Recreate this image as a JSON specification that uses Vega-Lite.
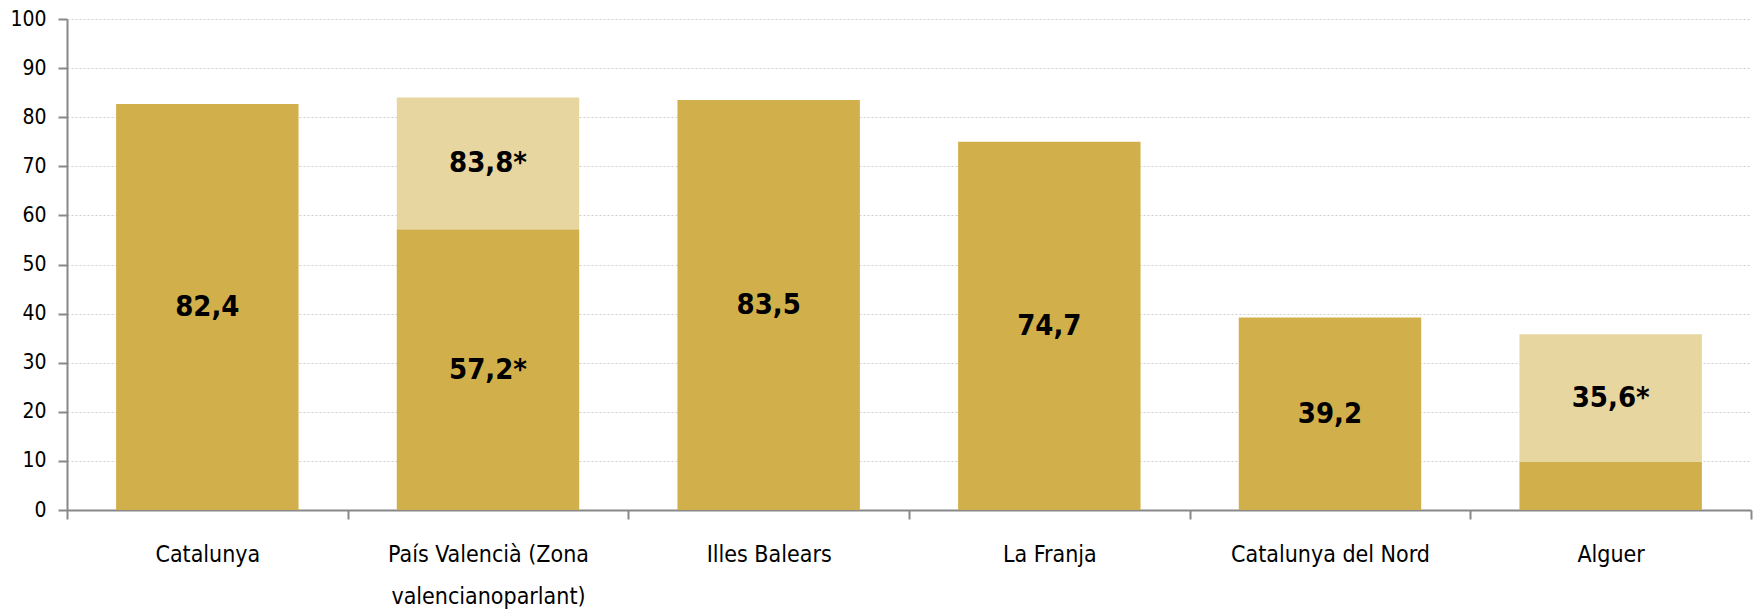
{
  "$schema": "https://vega.github.io/schema/vega-lite/v6.json",
  "width": 1684,
  "height": 491,
  "autosize": {"type": "none"},
  "padding": {"left": 67, "top": 19, "right": 7, "bottom": 100},
  "background": "white",
  "config": {
    "view": {"stroke": null},
    "font": "DejaVu Sans Condensed, DejaVu Sans"
  },
  "data": {
    "values": [
      {"region": "Catalunya", "part": "base", "start": 0, "end": 82.7, "label": "82,4"},
      {"region": "País Valencià (Zona valencianoparlant)", "part": "base", "start": 0, "end": 57.2, "label": "57,2*"},
      {"region": "País Valencià (Zona valencianoparlant)", "part": "extra", "start": 57.2, "end": 84.0, "label": "83,8*"},
      {"region": "Illes Balears", "part": "base", "start": 0, "end": 83.5, "label": "83,5"},
      {"region": "La Franja", "part": "base", "start": 0, "end": 75.0, "label": "74,7"},
      {"region": "Catalunya del Nord", "part": "base", "start": 0, "end": 39.2, "label": "39,2"},
      {"region": "Alguer", "part": "base", "start": 0, "end": 9.8, "label": ""},
      {"region": "Alguer", "part": "extra", "start": 9.8, "end": 35.8, "label": "35,6*"}
    ]
  },
  "encoding": {
    "x": {
      "field": "region",
      "type": "nominal",
      "sort": null,
      "scale": {"paddingInner": 0, "paddingOuter": 0},
      "axis": {
        "title": null,
        "labelAngle": 0,
        "labelLimit": 0,
        "labelFont": "DejaVu Sans Condensed, DejaVu Sans",
        "labelFontSize": 23,
        "labelColor": "#000000",
        "labelLineHeight": 42,
        "labelPadding": 24,
        "labelExpr": "datum.value == 'País Valencià (Zona valencianoparlant)' ? ['País Valencià (Zona', 'valencianoparlant)'] : datum.value",
        "tickBand": "extent",
        "tickSize": 9,
        "tickColor": "#888888",
        "tickWidth": 2,
        "domainColor": "#888888",
        "domainWidth": 2,
        "grid": false
      }
    }
  },
  "layer": [
    {
      "mark": {"type": "bar", "width": {"band": 0.65}},
      "encoding": {
        "y": {
          "field": "end",
          "type": "quantitative",
          "scale": {"domain": [0, 100], "nice": false},
          "axis": {
            "title": null,
            "values": [0, 10, 20, 30, 40, 50, 60, 70, 80, 90, 100],
            "labelFont": "DejaVu Sans Condensed, DejaVu Sans",
            "labelFontSize": 21,
            "labelColor": "#000000",
            "labelPadding": 12,
            "tickSize": 9,
            "tickColor": "#888888",
            "tickWidth": 2,
            "domainColor": "#888888",
            "domainWidth": 2,
            "grid": true,
            "gridColor": "#cfcfcf",
            "gridDash": [2, 2],
            "gridWidth": 1
          }
        },
        "y2": {"field": "start"},
        "color": {
          "field": "part",
          "type": "nominal",
          "scale": {"domain": ["base", "extra"], "range": ["#D1B04B", "#E8D6A1"]},
          "legend": null
        }
      }
    },
    {
      "transform": [
        {"filter": "datum.label != ''"},
        {"calculate": "(datum.start + datum.end) / 2", "as": "mid"}
      ],
      "mark": {
        "type": "text",
        "font": "DejaVu Sans Condensed, DejaVu Sans",
        "fontSize": 29,
        "fontWeight": "bold",
        "color": "#000000",
        "baseline": "middle",
        "align": "center"
      },
      "encoding": {
        "y": {"field": "mid", "type": "quantitative"},
        "text": {"field": "label"}
      }
    }
  ]
}
